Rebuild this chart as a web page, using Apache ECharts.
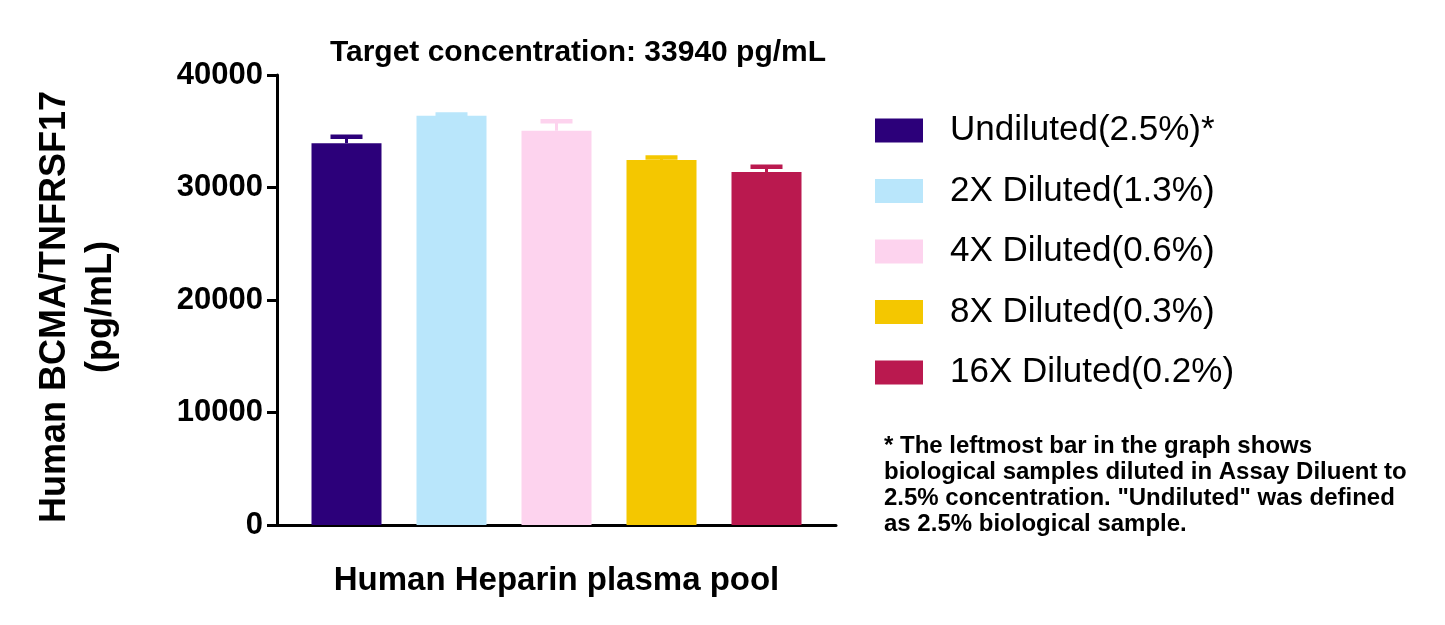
<!DOCTYPE html>
<html>
<head>
<meta charset="utf-8">
<script src="https://cdn.jsdelivr.net/npm/echarts@6/dist/echarts.min.js"></script>
<style>
  html, body { margin: 0; padding: 0; background: #fff; }
  #chart { width: 1445px; height: 625px; }
</style>
</head>
<body>
<div id="chart"></div>
<script>
const category = ['Human Heparin plasma pool'];
const groups = ['Undiluted(2.5%)*', '2X Diluted(1.3%)', '4X Diluted(0.6%)', '8X Diluted(0.3%)', '16X Diluted(0.2%)'];
const means = [33940, 36380, 35050, 32440, 31380];
const errors = [580, 110, 830, 230, 460];
const yTicks = [0, 10000, 20000, 30000, 40000];

const colors = ['#2c007a', '#b9e6fb', '#fdd3ee', '#f4c700', '#ba194f'];
const barWidth = 70;
const barStep = 105;
const font = 'Liberation Sans, Arial, sans-serif';

const chart = echarts.init(document.getElementById('chart'));

const barSeries = groups.map((name, i) => ({
  name: name,
  type: 'bar',
  data: [means[i]],
  barWidth: barWidth,
  barGap: '50%',
  itemStyle: { color: colors[i] }
}));

// upper error bars, drawn over each bar of the group
const errorSeries = {
  type: 'custom',
  silent: true,
  data: groups.map((g, i) => [i, means[i], errors[i]]),
  encode: { x: -1, y: 1 },
  renderItem: (params, api) => {
    const idx = api.value(0);
    const top = api.coord([0, api.value(1) + api.value(2)]);
    const base = api.coord([0, api.value(1)]);
    const x = base[0] + (idx - 2) * barStep;
    const c = colors[idx];
    return {
      type: 'group',
      children: [
        { type: 'line', shape: { x1: x, y1: base[1], x2: x, y2: top[1] }, style: { stroke: c, lineWidth: 3 } },
        { type: 'line', shape: { x1: x - 16, y1: top[1], x2: x + 16, y2: top[1] }, style: { stroke: c, lineWidth: 4.5 } }
      ]
    };
  },
  z: 3
};

chart.setOption({
  animation: false,
  title: {
    text: 'Target concentration: 33940 pg/mL',
    left: 573,
    top: 33,
    textAlign: 'center',
    textStyle: { fontFamily: font, fontWeight: 'bold', fontSize: 30, color: '#000' }
  },
  grid: { left: 277, right: 609, top: 75, bottom: 100 },
  legend: {
    orient: 'vertical',
    left: 870,
    top: 108,
    itemWidth: 48,
    itemHeight: 24,
    itemGap: 25.5,
    icon: 'rect',
    data: groups,
    textStyle: { fontFamily: font, fontSize: 35, lineHeight: 35, color: '#000', padding: [0, 0, 0, 22] }
  },
  xAxis: {
    type: 'category',
    data: category,
    axisLine: { lineStyle: { color: '#000', width: 3 } },
    axisTick: { alignWithLabel: true, length: 10, lineStyle: { color: '#000', width: 3 } },
    axisLabel: {
      margin: 39,
      fontFamily: font,
      fontWeight: 'bold',
      fontSize: 33,
      color: '#000'
    }
  },
  yAxis: {
    type: 'value',
    min: yTicks[0],
    max: yTicks[yTicks.length - 1],
    interval: 10000,
    name: 'Human BCMA/TNFRSF17\n(pg/mL)',
    nameLocation: 'middle',
    nameRotate: 90,
    nameGap: 153,
    nameTextStyle: { fontFamily: font, fontWeight: 'bold', fontSize: 36, color: '#000', lineHeight: 46, padding: [0, 14, 0, 0] },
    splitLine: { show: false },
    axisLine: { show: true, lineStyle: { color: '#000', width: 3 } },
    axisTick: { show: true, length: 10, lineStyle: { color: '#000', width: 3 } },
    axisLabel: {
      margin: 14,
      fontFamily: font,
      fontWeight: 'bold',
      fontSize: 31,
      color: '#000',
      formatter: v => String(v)
    }
  },
  graphic: [{
    type: 'text',
    left: 884,
    top: 433,
    style: {
      text: '* The leftmost bar in the graph shows\nbiological samples diluted in Assay Diluent to\n2.5% concentration. "Undiluted" was defined\nas 2.5% biological sample.',
      font: 'bold 24px "Liberation Sans", Arial',
      lineHeight: 26,
      fill: '#000'
    }
  }],
  series: [...barSeries, errorSeries]
});
</script>
</body>
</html>
